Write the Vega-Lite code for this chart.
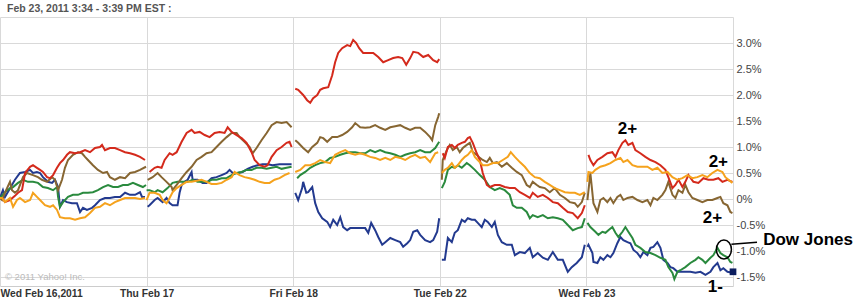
{
"$schema":"https://vega.github.io/schema/vega-lite/v6.json",
"width":733,"height":269,
"autosize":{"type":"none"},
"padding":{"left":0,"top":17,"right":127,"bottom":13},
"background":"white",
"config":{"view":{"stroke":null},"font":"Liberation Sans"},
"title":{"text":"Feb 23, 2011 3:34 - 3:39 PM EST :","anchor":"start","frame":"group","fontSize":10.5,"fontWeight":"bold","color":"#555555","font":"Liberation Sans","offset":3,"dx":7},
"datasets":{
"lines":[
{"s":"B","d":0,"t":0.0,"v":0.02},{"s":"B","d":0,"t":0.02,"v":0.17},{"s":"B","d":0,"t":0.034,"v":0.04},{"s":"B","d":0,"t":0.102,"v":0.37},{"s":"B","d":0,"t":0.136,"v":0.5},{"s":"B","d":0,"t":0.171,"v":0.52},{"s":"B","d":0,"t":0.205,"v":0.56},{"s":"B","d":0,"t":0.225,"v":0.5},{"s":"B","d":0,"t":0.252,"v":0.52},{"s":"B","d":0,"t":0.273,"v":0.5},{"s":"B","d":0,"t":0.293,"v":0.42},{"s":"B","d":0,"t":0.327,"v":0.33},{"s":"B","d":0,"t":0.355,"v":0.31},{"s":"B","d":0,"t":0.375,"v":0.37},{"s":"B","d":0,"t":0.396,"v":0.23},{"s":"B","d":0,"t":0.409,"v":-0.15},{"s":"B","d":0,"t":0.43,"v":-0.02},{"s":"B","d":0,"t":0.457,"v":-0.06},{"s":"B","d":0,"t":0.491,"v":-0.08},{"s":"B","d":0,"t":0.525,"v":-0.08},{"s":"B","d":0,"t":0.546,"v":-0.25},{"s":"B","d":0,"t":0.566,"v":-0.17},{"s":"B","d":0,"t":0.593,"v":-0.21},{"s":"B","d":0,"t":0.628,"v":-0.17},{"s":"B","d":0,"t":0.648,"v":-0.12},{"s":"B","d":0,"t":0.682,"v":-0.02},{"s":"B","d":0,"t":0.716,"v":0.02},{"s":"B","d":0,"t":0.75,"v":0.02},{"s":"B","d":0,"t":0.784,"v":0.04},{"s":"B","d":0,"t":0.819,"v":0.04},{"s":"B","d":0,"t":0.853,"v":0.12},{"s":"B","d":0,"t":0.887,"v":0.08},{"s":"B","d":0,"t":0.921,"v":0.08},{"s":"B","d":0,"t":0.955,"v":0.13},{"s":"B","d":0,"t":0.969,"v":0.04},{"s":"B","d":0,"t":0.989,"v":0.04},
{"s":"B","d":1,"t":1.007,"v":-0.15},{"s":"B","d":1,"t":1.02,"v":-0.12},{"s":"B","d":1,"t":1.055,"v":-0.02},{"s":"B","d":1,"t":1.075,"v":0.02},{"s":"B","d":1,"t":1.109,"v":-0.06},{"s":"B","d":1,"t":1.136,"v":0.02},{"s":"B","d":1,"t":1.157,"v":-0.08},{"s":"B","d":1,"t":1.177,"v":-0.12},{"s":"B","d":1,"t":1.211,"v":-0.12},{"s":"B","d":1,"t":1.225,"v":0.12},{"s":"B","d":1,"t":1.239,"v":0.27},{"s":"B","d":1,"t":1.259,"v":0.33},{"s":"B","d":1,"t":1.28,"v":0.37},{"s":"B","d":1,"t":1.307,"v":0.52},{"s":"B","d":1,"t":1.314,"v":0.37},{"s":"B","d":1,"t":1.348,"v":0.37},{"s":"B","d":1,"t":1.382,"v":0.31},{"s":"B","d":1,"t":1.409,"v":0.31},{"s":"B","d":1,"t":1.443,"v":0.4},{"s":"B","d":1,"t":1.477,"v":0.42},{"s":"B","d":1,"t":1.512,"v":0.46},{"s":"B","d":1,"t":1.546,"v":0.5},{"s":"B","d":1,"t":1.566,"v":0.56},{"s":"B","d":1,"t":1.587,"v":0.5},{"s":"B","d":1,"t":1.621,"v":0.5},{"s":"B","d":1,"t":1.655,"v":0.52},{"s":"B","d":1,"t":1.689,"v":0.58},{"s":"B","d":1,"t":1.723,"v":0.62},{"s":"B","d":1,"t":1.757,"v":0.65},{"s":"B","d":1,"t":1.791,"v":0.67},{"s":"B","d":1,"t":1.825,"v":0.67},{"s":"B","d":1,"t":1.859,"v":0.65},{"s":"B","d":1,"t":1.907,"v":0.67},{"s":"B","d":1,"t":1.955,"v":0.67},{"s":"B","d":1,"t":1.989,"v":0.67},
{"s":"B","d":2,"t":2.014,"v":0.12},{"s":"B","d":2,"t":2.034,"v":-0.02},{"s":"B","d":2,"t":2.061,"v":0.21},{"s":"B","d":2,"t":2.068,"v":0.33},{"s":"B","d":2,"t":2.089,"v":0.12},{"s":"B","d":2,"t":2.102,"v":0.13},{"s":"B","d":2,"t":2.13,"v":0.23},{"s":"B","d":2,"t":2.15,"v":-0.08},{"s":"B","d":2,"t":2.171,"v":-0.25},{"s":"B","d":2,"t":2.198,"v":-0.37},{"s":"B","d":2,"t":2.232,"v":-0.44},{"s":"B","d":2,"t":2.252,"v":-0.54},{"s":"B","d":2,"t":2.273,"v":-0.4},{"s":"B","d":2,"t":2.3,"v":-0.5},{"s":"B","d":2,"t":2.321,"v":-0.35},{"s":"B","d":2,"t":2.341,"v":-0.54},{"s":"B","d":2,"t":2.368,"v":-0.6},{"s":"B","d":2,"t":2.389,"v":-0.56},{"s":"B","d":2,"t":2.423,"v":-0.56},{"s":"B","d":2,"t":2.457,"v":-0.56},{"s":"B","d":2,"t":2.491,"v":-0.56},{"s":"B","d":2,"t":2.512,"v":-0.65},{"s":"B","d":2,"t":2.532,"v":-0.46},{"s":"B","d":2,"t":2.559,"v":-0.6},{"s":"B","d":2,"t":2.58,"v":-0.73},{"s":"B","d":2,"t":2.607,"v":-0.88},{"s":"B","d":2,"t":2.628,"v":-0.83},{"s":"B","d":2,"t":2.662,"v":-0.75},{"s":"B","d":2,"t":2.696,"v":-0.79},{"s":"B","d":2,"t":2.73,"v":-0.83},{"s":"B","d":2,"t":2.75,"v":-0.92},{"s":"B","d":2,"t":2.778,"v":-0.85},{"s":"B","d":2,"t":2.798,"v":-0.79},{"s":"B","d":2,"t":2.819,"v":-0.63},{"s":"B","d":2,"t":2.846,"v":-0.6},{"s":"B","d":2,"t":2.866,"v":-0.69},{"s":"B","d":2,"t":2.9,"v":-0.79},{"s":"B","d":2,"t":2.934,"v":-0.83},{"s":"B","d":2,"t":2.955,"v":-0.79},{"s":"B","d":2,"t":2.982,"v":-0.63},{"s":"B","d":2,"t":2.996,"v":-0.37},
{"s":"B","d":3,"t":3.014,"v":-1.17},{"s":"B","d":3,"t":3.034,"v":-1.17},{"s":"B","d":3,"t":3.055,"v":-0.75},{"s":"B","d":3,"t":3.082,"v":-0.83},{"s":"B","d":3,"t":3.102,"v":-0.65},{"s":"B","d":3,"t":3.123,"v":-0.6},{"s":"B","d":3,"t":3.15,"v":-0.4},{"s":"B","d":3,"t":3.171,"v":-0.44},{"s":"B","d":3,"t":3.191,"v":-0.37},{"s":"B","d":3,"t":3.218,"v":-0.4},{"s":"B","d":3,"t":3.239,"v":-0.4},{"s":"B","d":3,"t":3.259,"v":-0.46},{"s":"B","d":3,"t":3.286,"v":-0.54},{"s":"B","d":3,"t":3.307,"v":-0.4},{"s":"B","d":3,"t":3.327,"v":-0.44},{"s":"B","d":3,"t":3.355,"v":-0.54},{"s":"B","d":3,"t":3.375,"v":-0.44},{"s":"B","d":3,"t":3.396,"v":-0.69},{"s":"B","d":3,"t":3.423,"v":-0.83},{"s":"B","d":3,"t":3.457,"v":-0.88},{"s":"B","d":3,"t":3.491,"v":-0.88},{"s":"B","d":3,"t":3.512,"v":-1.08},{"s":"B","d":3,"t":3.546,"v":-1.02},{"s":"B","d":3,"t":3.58,"v":-1.04},{"s":"B","d":3,"t":3.614,"v":-0.94},{"s":"B","d":3,"t":3.634,"v":-1.12},{"s":"B","d":3,"t":3.668,"v":-1.04},{"s":"B","d":3,"t":3.703,"v":-1.13},{"s":"B","d":3,"t":3.737,"v":-1.17},{"s":"B","d":3,"t":3.771,"v":-1.02},{"s":"B","d":3,"t":3.805,"v":-1.17},{"s":"B","d":3,"t":3.839,"v":-1.17},{"s":"B","d":3,"t":3.873,"v":-1.4},{"s":"B","d":3,"t":3.9,"v":-1.31},{"s":"B","d":3,"t":3.934,"v":-1.23},{"s":"B","d":3,"t":3.969,"v":-1.12},{"s":"B","d":3,"t":3.989,"v":-0.88},
{"s":"B","d":4,"t":4.007,"v":-0.92},{"s":"B","d":4,"t":4.014,"v":-0.88},{"s":"B","d":4,"t":4.041,"v":-1.04},{"s":"B","d":4,"t":4.048,"v":-1.21},{"s":"B","d":4,"t":4.075,"v":-1.23},{"s":"B","d":4,"t":4.095,"v":-1.12},{"s":"B","d":4,"t":4.116,"v":-1.17},{"s":"B","d":4,"t":4.143,"v":-1.08},{"s":"B","d":4,"t":4.164,"v":-1.12},{"s":"B","d":4,"t":4.184,"v":-1.04},{"s":"B","d":4,"t":4.211,"v":-0.85},{"s":"B","d":4,"t":4.232,"v":-0.73},{"s":"B","d":4,"t":4.252,"v":-0.79},{"s":"B","d":4,"t":4.28,"v":-0.83},{"s":"B","d":4,"t":4.3,"v":-0.85},{"s":"B","d":4,"t":4.321,"v":-0.98},{"s":"B","d":4,"t":4.348,"v":-1.04},{"s":"B","d":4,"t":4.368,"v":-1.12},{"s":"B","d":4,"t":4.389,"v":-1.02},{"s":"B","d":4,"t":4.416,"v":-1.08},{"s":"B","d":4,"t":4.437,"v":-0.94},{"s":"B","d":4,"t":4.457,"v":-0.92},{"s":"B","d":4,"t":4.484,"v":-0.83},{"s":"B","d":4,"t":4.505,"v":-0.94},{"s":"B","d":4,"t":4.525,"v":-1.17},{"s":"B","d":4,"t":4.553,"v":-1.23},{"s":"B","d":4,"t":4.573,"v":-1.31},{"s":"B","d":4,"t":4.593,"v":-1.33},{"s":"B","d":4,"t":4.621,"v":-1.4},{"s":"B","d":4,"t":4.641,"v":-1.4},{"s":"B","d":4,"t":4.675,"v":-1.4},{"s":"B","d":4,"t":4.709,"v":-1.4},{"s":"B","d":4,"t":4.744,"v":-1.42},{"s":"B","d":4,"t":4.778,"v":-1.4},{"s":"B","d":4,"t":4.812,"v":-1.46},{"s":"B","d":4,"t":4.846,"v":-1.4},{"s":"B","d":4,"t":4.866,"v":-1.31},{"s":"B","d":4,"t":4.894,"v":-1.23},{"s":"B","d":4,"t":4.914,"v":-1.37},{"s":"B","d":4,"t":4.934,"v":-1.33},{"s":"B","d":4,"t":4.962,"v":-1.4},{"s":"B","d":4,"t":4.996,"v":-1.42},
{"s":"G","d":0,"t":0.0,"v":0.02},{"s":"G","d":0,"t":0.048,"v":0.17},{"s":"G","d":0,"t":0.089,"v":0.23},{"s":"G","d":0,"t":0.123,"v":0.31},{"s":"G","d":0,"t":0.157,"v":0.37},{"s":"G","d":0,"t":0.191,"v":0.33},{"s":"G","d":0,"t":0.225,"v":0.33},{"s":"G","d":0,"t":0.259,"v":0.31},{"s":"G","d":0,"t":0.293,"v":0.23},{"s":"G","d":0,"t":0.327,"v":0.21},{"s":"G","d":0,"t":0.362,"v":0.17},{"s":"G","d":0,"t":0.389,"v":0.23},{"s":"G","d":0,"t":0.396,"v":0.04},{"s":"G","d":0,"t":0.409,"v":-0.15},{"s":"G","d":0,"t":0.43,"v":-0.06},{"s":"G","d":0,"t":0.464,"v":0.04},{"s":"G","d":0,"t":0.498,"v":0.08},{"s":"G","d":0,"t":0.532,"v":0.08},{"s":"G","d":0,"t":0.566,"v":0.12},{"s":"G","d":0,"t":0.6,"v":0.12},{"s":"G","d":0,"t":0.634,"v":0.13},{"s":"G","d":0,"t":0.668,"v":0.17},{"s":"G","d":0,"t":0.703,"v":0.23},{"s":"G","d":0,"t":0.737,"v":0.27},{"s":"G","d":0,"t":0.771,"v":0.23},{"s":"G","d":0,"t":0.805,"v":0.23},{"s":"G","d":0,"t":0.839,"v":0.27},{"s":"G","d":0,"t":0.873,"v":0.27},{"s":"G","d":0,"t":0.907,"v":0.31},{"s":"G","d":0,"t":0.941,"v":0.27},{"s":"G","d":0,"t":0.975,"v":0.23},{"s":"G","d":0,"t":0.996,"v":0.27},
{"s":"G","d":1,"t":1.0,"v":0.17},{"s":"G","d":1,"t":1.02,"v":0.17},{"s":"G","d":1,"t":1.055,"v":0.13},{"s":"G","d":1,"t":1.075,"v":0.17},{"s":"G","d":1,"t":1.109,"v":0.13},{"s":"G","d":1,"t":1.143,"v":0.21},{"s":"G","d":1,"t":1.177,"v":0.31},{"s":"G","d":1,"t":1.211,"v":0.33},{"s":"G","d":1,"t":1.246,"v":0.33},{"s":"G","d":1,"t":1.28,"v":0.33},{"s":"G","d":1,"t":1.314,"v":0.37},{"s":"G","d":1,"t":1.348,"v":0.33},{"s":"G","d":1,"t":1.382,"v":0.33},{"s":"G","d":1,"t":1.416,"v":0.33},{"s":"G","d":1,"t":1.443,"v":0.37},{"s":"G","d":1,"t":1.477,"v":0.37},{"s":"G","d":1,"t":1.512,"v":0.4},{"s":"G","d":1,"t":1.546,"v":0.4},{"s":"G","d":1,"t":1.58,"v":0.46},{"s":"G","d":1,"t":1.614,"v":0.5},{"s":"G","d":1,"t":1.648,"v":0.52},{"s":"G","d":1,"t":1.682,"v":0.56},{"s":"G","d":1,"t":1.716,"v":0.56},{"s":"G","d":1,"t":1.75,"v":0.6},{"s":"G","d":1,"t":1.784,"v":0.6},{"s":"G","d":1,"t":1.819,"v":0.58},{"s":"G","d":1,"t":1.853,"v":0.6},{"s":"G","d":1,"t":1.887,"v":0.62},{"s":"G","d":1,"t":1.921,"v":0.58},{"s":"G","d":1,"t":1.955,"v":0.6},{"s":"G","d":1,"t":1.989,"v":0.62},
{"s":"G","d":2,"t":2.027,"v":0.4},{"s":"G","d":2,"t":2.048,"v":0.46},{"s":"G","d":2,"t":2.082,"v":0.52},{"s":"G","d":2,"t":2.116,"v":0.6},{"s":"G","d":2,"t":2.15,"v":0.65},{"s":"G","d":2,"t":2.184,"v":0.69},{"s":"G","d":2,"t":2.218,"v":0.71},{"s":"G","d":2,"t":2.252,"v":0.79},{"s":"G","d":2,"t":2.286,"v":0.81},{"s":"G","d":2,"t":2.321,"v":0.85},{"s":"G","d":2,"t":2.355,"v":0.88},{"s":"G","d":2,"t":2.389,"v":0.9},{"s":"G","d":2,"t":2.423,"v":0.9},{"s":"G","d":2,"t":2.457,"v":0.88},{"s":"G","d":2,"t":2.491,"v":0.88},{"s":"G","d":2,"t":2.525,"v":0.94},{"s":"G","d":2,"t":2.559,"v":0.9},{"s":"G","d":2,"t":2.593,"v":0.94},{"s":"G","d":2,"t":2.628,"v":0.9},{"s":"G","d":2,"t":2.662,"v":0.88},{"s":"G","d":2,"t":2.696,"v":0.85},{"s":"G","d":2,"t":2.73,"v":0.81},{"s":"G","d":2,"t":2.764,"v":0.85},{"s":"G","d":2,"t":2.798,"v":0.88},{"s":"G","d":2,"t":2.832,"v":0.9},{"s":"G","d":2,"t":2.866,"v":0.94},{"s":"G","d":2,"t":2.9,"v":0.9},{"s":"G","d":2,"t":2.934,"v":0.9},{"s":"G","d":2,"t":2.969,"v":0.98},{"s":"G","d":2,"t":2.996,"v":1.1},
{"s":"G","d":3,"t":3.014,"v":0.21},{"s":"G","d":3,"t":3.034,"v":0.33},{"s":"G","d":3,"t":3.055,"v":0.56},{"s":"G","d":3,"t":3.082,"v":0.62},{"s":"G","d":3,"t":3.102,"v":0.6},{"s":"G","d":3,"t":3.123,"v":0.65},{"s":"G","d":3,"t":3.15,"v":0.6},{"s":"G","d":3,"t":3.184,"v":0.69},{"s":"G","d":3,"t":3.205,"v":0.65},{"s":"G","d":3,"t":3.239,"v":0.56},{"s":"G","d":3,"t":3.273,"v":0.46},{"s":"G","d":3,"t":3.307,"v":0.37},{"s":"G","d":3,"t":3.341,"v":0.23},{"s":"G","d":3,"t":3.375,"v":0.17},{"s":"G","d":3,"t":3.409,"v":0.21},{"s":"G","d":3,"t":3.443,"v":0.17},{"s":"G","d":3,"t":3.477,"v":0.08},{"s":"G","d":3,"t":3.498,"v":-0.12},{"s":"G","d":3,"t":3.525,"v":-0.17},{"s":"G","d":3,"t":3.559,"v":-0.17},{"s":"G","d":3,"t":3.593,"v":-0.25},{"s":"G","d":3,"t":3.614,"v":-0.37},{"s":"G","d":3,"t":3.634,"v":-0.31},{"s":"G","d":3,"t":3.668,"v":-0.35},{"s":"G","d":3,"t":3.703,"v":-0.31},{"s":"G","d":3,"t":3.737,"v":-0.37},{"s":"G","d":3,"t":3.771,"v":-0.35},{"s":"G","d":3,"t":3.805,"v":-0.37},{"s":"G","d":3,"t":3.839,"v":-0.4},{"s":"G","d":3,"t":3.873,"v":-0.5},{"s":"G","d":3,"t":3.907,"v":-0.6},{"s":"G","d":3,"t":3.941,"v":-0.56},{"s":"G","d":3,"t":3.969,"v":-0.54},{"s":"G","d":3,"t":3.989,"v":-0.37},
{"s":"G","d":4,"t":4.007,"v":-0.46},{"s":"G","d":4,"t":4.027,"v":-0.54},{"s":"G","d":4,"t":4.061,"v":-0.63},{"s":"G","d":4,"t":4.082,"v":-0.69},{"s":"G","d":4,"t":4.109,"v":-0.63},{"s":"G","d":4,"t":4.13,"v":-0.65},{"s":"G","d":4,"t":4.15,"v":-0.6},{"s":"G","d":4,"t":4.177,"v":-0.54},{"s":"G","d":4,"t":4.198,"v":-0.65},{"s":"G","d":4,"t":4.218,"v":-0.73},{"s":"G","d":4,"t":4.246,"v":-0.63},{"s":"G","d":4,"t":4.266,"v":-0.54},{"s":"G","d":4,"t":4.286,"v":-0.63},{"s":"G","d":4,"t":4.314,"v":-0.75},{"s":"G","d":4,"t":4.334,"v":-0.88},{"s":"G","d":4,"t":4.368,"v":-0.94},{"s":"G","d":4,"t":4.402,"v":-1.02},{"s":"G","d":4,"t":4.437,"v":-1.04},{"s":"G","d":4,"t":4.471,"v":-1.08},{"s":"G","d":4,"t":4.505,"v":-1.13},{"s":"G","d":4,"t":4.539,"v":-1.17},{"s":"G","d":4,"t":4.559,"v":-1.31},{"s":"G","d":4,"t":4.587,"v":-1.42},{"s":"G","d":4,"t":4.6,"v":-1.54},{"s":"G","d":4,"t":4.621,"v":-1.4},{"s":"G","d":4,"t":4.641,"v":-1.37},{"s":"G","d":4,"t":4.675,"v":-1.31},{"s":"G","d":4,"t":4.709,"v":-1.23},{"s":"G","d":4,"t":4.744,"v":-1.17},{"s":"G","d":4,"t":4.764,"v":-1.12},{"s":"G","d":4,"t":4.791,"v":-1.17},{"s":"G","d":4,"t":4.812,"v":-1.23},{"s":"G","d":4,"t":4.846,"v":-1.13},{"s":"G","d":4,"t":4.866,"v":-1.08},{"s":"G","d":4,"t":4.894,"v":-0.94},{"s":"G","d":4,"t":4.914,"v":-1.04},{"s":"G","d":4,"t":4.934,"v":-1.08},{"s":"G","d":4,"t":4.962,"v":-1.12},{"s":"G","d":4,"t":4.982,"v":-1.21},{"s":"G","d":4,"t":4.996,"v":-1.23},
{"s":"K","d":0,"t":0.0,"v":0.02},{"s":"K","d":0,"t":0.014,"v":-0.02},{"s":"K","d":0,"t":0.034,"v":0.12},{"s":"K","d":0,"t":0.068,"v":0.33},{"s":"K","d":0,"t":0.082,"v":0.17},{"s":"K","d":0,"t":0.102,"v":0.12},{"s":"K","d":0,"t":0.123,"v":0.17},{"s":"K","d":0,"t":0.157,"v":0.42},{"s":"K","d":0,"t":0.184,"v":0.5},{"s":"K","d":0,"t":0.225,"v":0.46},{"s":"K","d":0,"t":0.259,"v":0.42},{"s":"K","d":0,"t":0.286,"v":0.37},{"s":"K","d":0,"t":0.321,"v":0.33},{"s":"K","d":0,"t":0.355,"v":0.42},{"s":"K","d":0,"t":0.375,"v":0.37},{"s":"K","d":0,"t":0.396,"v":0.17},{"s":"K","d":0,"t":0.423,"v":0.37},{"s":"K","d":0,"t":0.443,"v":0.6},{"s":"K","d":0,"t":0.464,"v":0.75},{"s":"K","d":0,"t":0.498,"v":0.85},{"s":"K","d":0,"t":0.532,"v":0.9},{"s":"K","d":0,"t":0.559,"v":0.88},{"s":"K","d":0,"t":0.58,"v":0.81},{"s":"K","d":0,"t":0.6,"v":0.75},{"s":"K","d":0,"t":0.634,"v":0.65},{"s":"K","d":0,"t":0.668,"v":0.56},{"s":"K","d":0,"t":0.703,"v":0.5},{"s":"K","d":0,"t":0.73,"v":0.52},{"s":"K","d":0,"t":0.75,"v":0.42},{"s":"K","d":0,"t":0.784,"v":0.37},{"s":"K","d":0,"t":0.819,"v":0.42},{"s":"K","d":0,"t":0.853,"v":0.4},{"s":"K","d":0,"t":0.887,"v":0.5},{"s":"K","d":0,"t":0.921,"v":0.52},{"s":"K","d":0,"t":0.955,"v":0.56},{"s":"K","d":0,"t":0.996,"v":0.62},
{"s":"K","d":1,"t":1.007,"v":0.37},{"s":"K","d":1,"t":1.041,"v":0.42},{"s":"K","d":1,"t":1.075,"v":0.5},{"s":"K","d":1,"t":1.102,"v":0.42},{"s":"K","d":1,"t":1.136,"v":0.33},{"s":"K","d":1,"t":1.171,"v":0.23},{"s":"K","d":1,"t":1.177,"v":0.17},{"s":"K","d":1,"t":1.205,"v":0.27},{"s":"K","d":1,"t":1.239,"v":0.4},{"s":"K","d":1,"t":1.273,"v":0.52},{"s":"K","d":1,"t":1.307,"v":0.62},{"s":"K","d":1,"t":1.341,"v":0.75},{"s":"K","d":1,"t":1.375,"v":0.81},{"s":"K","d":1,"t":1.409,"v":0.88},{"s":"K","d":1,"t":1.443,"v":0.9},{"s":"K","d":1,"t":1.477,"v":1.0},{"s":"K","d":1,"t":1.512,"v":1.1},{"s":"K","d":1,"t":1.546,"v":1.19},{"s":"K","d":1,"t":1.58,"v":1.27},{"s":"K","d":1,"t":1.614,"v":1.27},{"s":"K","d":1,"t":1.634,"v":1.19},{"s":"K","d":1,"t":1.668,"v":1.1},{"s":"K","d":1,"t":1.703,"v":1.0},{"s":"K","d":1,"t":1.723,"v":0.88},{"s":"K","d":1,"t":1.75,"v":0.98},{"s":"K","d":1,"t":1.784,"v":1.13},{"s":"K","d":1,"t":1.819,"v":1.27},{"s":"K","d":1,"t":1.853,"v":1.42},{"s":"K","d":1,"t":1.887,"v":1.48},{"s":"K","d":1,"t":1.921,"v":1.46},{"s":"K","d":1,"t":1.955,"v":1.48},{"s":"K","d":1,"t":1.989,"v":1.38},
{"s":"K","d":2,"t":2.014,"v":1.13},{"s":"K","d":2,"t":2.034,"v":1.08},{"s":"K","d":2,"t":2.068,"v":0.98},{"s":"K","d":2,"t":2.102,"v":0.9},{"s":"K","d":2,"t":2.13,"v":1.0},{"s":"K","d":2,"t":2.164,"v":1.08},{"s":"K","d":2,"t":2.184,"v":1.19},{"s":"K","d":2,"t":2.205,"v":1.17},{"s":"K","d":2,"t":2.232,"v":1.1},{"s":"K","d":2,"t":2.266,"v":1.19},{"s":"K","d":2,"t":2.3,"v":1.19},{"s":"K","d":2,"t":2.334,"v":1.23},{"s":"K","d":2,"t":2.368,"v":1.29},{"s":"K","d":2,"t":2.402,"v":1.38},{"s":"K","d":2,"t":2.423,"v":1.46},{"s":"K","d":2,"t":2.457,"v":1.38},{"s":"K","d":2,"t":2.491,"v":1.37},{"s":"K","d":2,"t":2.525,"v":1.38},{"s":"K","d":2,"t":2.559,"v":1.42},{"s":"K","d":2,"t":2.593,"v":1.37},{"s":"K","d":2,"t":2.628,"v":1.33},{"s":"K","d":2,"t":2.662,"v":1.38},{"s":"K","d":2,"t":2.696,"v":1.4},{"s":"K","d":2,"t":2.73,"v":1.42},{"s":"K","d":2,"t":2.764,"v":1.37},{"s":"K","d":2,"t":2.798,"v":1.33},{"s":"K","d":2,"t":2.832,"v":1.37},{"s":"K","d":2,"t":2.866,"v":1.37},{"s":"K","d":2,"t":2.9,"v":1.29},{"s":"K","d":2,"t":2.934,"v":1.19},{"s":"K","d":2,"t":2.948,"v":1.13},{"s":"K","d":2,"t":2.969,"v":1.42},{"s":"K","d":2,"t":2.989,"v":1.58},{"s":"K","d":2,"t":2.996,"v":1.65},
{"s":"K","d":3,"t":3.014,"v":0.37},{"s":"K","d":3,"t":3.02,"v":0.75},{"s":"K","d":3,"t":3.048,"v":0.94},{"s":"K","d":3,"t":3.068,"v":1.04},{"s":"K","d":3,"t":3.089,"v":0.94},{"s":"K","d":3,"t":3.116,"v":1.0},{"s":"K","d":3,"t":3.136,"v":0.9},{"s":"K","d":3,"t":3.157,"v":0.98},{"s":"K","d":3,"t":3.184,"v":1.04},{"s":"K","d":3,"t":3.205,"v":1.08},{"s":"K","d":3,"t":3.225,"v":0.9},{"s":"K","d":3,"t":3.252,"v":0.85},{"s":"K","d":3,"t":3.273,"v":0.79},{"s":"K","d":3,"t":3.293,"v":0.75},{"s":"K","d":3,"t":3.321,"v":0.71},{"s":"K","d":3,"t":3.341,"v":0.79},{"s":"K","d":3,"t":3.362,"v":0.69},{"s":"K","d":3,"t":3.389,"v":0.71},{"s":"K","d":3,"t":3.423,"v":0.62},{"s":"K","d":3,"t":3.457,"v":0.69},{"s":"K","d":3,"t":3.491,"v":0.6},{"s":"K","d":3,"t":3.525,"v":0.52},{"s":"K","d":3,"t":3.559,"v":0.46},{"s":"K","d":3,"t":3.593,"v":0.27},{"s":"K","d":3,"t":3.614,"v":0.23},{"s":"K","d":3,"t":3.634,"v":0.33},{"s":"K","d":3,"t":3.662,"v":0.27},{"s":"K","d":3,"t":3.682,"v":0.23},{"s":"K","d":3,"t":3.716,"v":0.21},{"s":"K","d":3,"t":3.75,"v":0.13},{"s":"K","d":3,"t":3.784,"v":0.21},{"s":"K","d":3,"t":3.819,"v":0.08},{"s":"K","d":3,"t":3.853,"v":0.02},{"s":"K","d":3,"t":3.887,"v":-0.06},{"s":"K","d":3,"t":3.921,"v":-0.08},{"s":"K","d":3,"t":3.941,"v":-0.15},{"s":"K","d":3,"t":3.969,"v":-0.06},{"s":"K","d":3,"t":3.989,"v":0.12},
{"s":"K","d":4,"t":4.007,"v":-0.02},{"s":"K","d":4,"t":4.027,"v":0.5},{"s":"K","d":4,"t":4.048,"v":-0.08},{"s":"K","d":4,"t":4.075,"v":-0.25},{"s":"K","d":4,"t":4.095,"v":-0.02},{"s":"K","d":4,"t":4.116,"v":0.02},{"s":"K","d":4,"t":4.143,"v":-0.06},{"s":"K","d":4,"t":4.164,"v":0.02},{"s":"K","d":4,"t":4.184,"v":-0.08},{"s":"K","d":4,"t":4.211,"v":0.04},{"s":"K","d":4,"t":4.232,"v":0.08},{"s":"K","d":4,"t":4.252,"v":-0.02},{"s":"K","d":4,"t":4.28,"v":0.02},{"s":"K","d":4,"t":4.314,"v":0.04},{"s":"K","d":4,"t":4.348,"v":-0.02},{"s":"K","d":4,"t":4.382,"v":-0.06},{"s":"K","d":4,"t":4.416,"v":-0.02},{"s":"K","d":4,"t":4.437,"v":-0.12},{"s":"K","d":4,"t":4.457,"v":0.02},{"s":"K","d":4,"t":4.484,"v":-0.02},{"s":"K","d":4,"t":4.518,"v":0.08},{"s":"K","d":4,"t":4.539,"v":0.17},{"s":"K","d":4,"t":4.559,"v":0.33},{"s":"K","d":4,"t":4.587,"v":0.08},{"s":"K","d":4,"t":4.607,"v":0.02},{"s":"K","d":4,"t":4.628,"v":0.17},{"s":"K","d":4,"t":4.655,"v":0.12},{"s":"K","d":4,"t":4.675,"v":0.27},{"s":"K","d":4,"t":4.696,"v":0.13},{"s":"K","d":4,"t":4.723,"v":0.02},{"s":"K","d":4,"t":4.757,"v":-0.02},{"s":"K","d":4,"t":4.791,"v":-0.06},{"s":"K","d":4,"t":4.825,"v":-0.02},{"s":"K","d":4,"t":4.859,"v":-0.02},{"s":"K","d":4,"t":4.894,"v":0.02},{"s":"K","d":4,"t":4.914,"v":0.04},{"s":"K","d":4,"t":4.934,"v":-0.08},{"s":"K","d":4,"t":4.962,"v":-0.12},{"s":"K","d":4,"t":4.982,"v":-0.25},{"s":"K","d":4,"t":4.996,"v":-0.27},
{"s":"R","d":0,"t":0.0,"v":0.02},{"s":"R","d":0,"t":0.014,"v":0.02},{"s":"R","d":0,"t":0.034,"v":-0.06},{"s":"R","d":0,"t":0.068,"v":-0.02},{"s":"R","d":0,"t":0.102,"v":0.06},{"s":"R","d":0,"t":0.123,"v":0.12},{"s":"R","d":0,"t":0.15,"v":0.17},{"s":"R","d":0,"t":0.171,"v":0.5},{"s":"R","d":0,"t":0.205,"v":0.62},{"s":"R","d":0,"t":0.225,"v":0.65},{"s":"R","d":0,"t":0.252,"v":0.6},{"s":"R","d":0,"t":0.273,"v":0.56},{"s":"R","d":0,"t":0.293,"v":0.52},{"s":"R","d":0,"t":0.321,"v":0.42},{"s":"R","d":0,"t":0.341,"v":0.4},{"s":"R","d":0,"t":0.362,"v":0.46},{"s":"R","d":0,"t":0.389,"v":0.6},{"s":"R","d":0,"t":0.409,"v":0.69},{"s":"R","d":0,"t":0.43,"v":0.75},{"s":"R","d":0,"t":0.457,"v":0.85},{"s":"R","d":0,"t":0.477,"v":0.9},{"s":"R","d":0,"t":0.512,"v":0.88},{"s":"R","d":0,"t":0.546,"v":0.9},{"s":"R","d":0,"t":0.58,"v":0.94},{"s":"R","d":0,"t":0.614,"v":0.9},{"s":"R","d":0,"t":0.648,"v":0.98},{"s":"R","d":0,"t":0.682,"v":1.0},{"s":"R","d":0,"t":0.696,"v":1.04},{"s":"R","d":0,"t":0.716,"v":0.94},{"s":"R","d":0,"t":0.75,"v":0.98},{"s":"R","d":0,"t":0.784,"v":0.98},{"s":"R","d":0,"t":0.819,"v":0.94},{"s":"R","d":0,"t":0.853,"v":0.9},{"s":"R","d":0,"t":0.887,"v":0.88},{"s":"R","d":0,"t":0.921,"v":0.85},{"s":"R","d":0,"t":0.955,"v":0.81},{"s":"R","d":0,"t":0.989,"v":0.75},
{"s":"R","d":1,"t":1.02,"v":0.52},{"s":"R","d":1,"t":1.055,"v":0.6},{"s":"R","d":1,"t":1.075,"v":0.62},{"s":"R","d":1,"t":1.102,"v":0.6},{"s":"R","d":1,"t":1.123,"v":0.75},{"s":"R","d":1,"t":1.157,"v":0.88},{"s":"R","d":1,"t":1.177,"v":0.85},{"s":"R","d":1,"t":1.205,"v":0.9},{"s":"R","d":1,"t":1.239,"v":1.1},{"s":"R","d":1,"t":1.273,"v":1.27},{"s":"R","d":1,"t":1.307,"v":1.33},{"s":"R","d":1,"t":1.327,"v":1.27},{"s":"R","d":1,"t":1.362,"v":1.29},{"s":"R","d":1,"t":1.396,"v":1.23},{"s":"R","d":1,"t":1.43,"v":1.19},{"s":"R","d":1,"t":1.464,"v":1.27},{"s":"R","d":1,"t":1.498,"v":1.29},{"s":"R","d":1,"t":1.532,"v":1.27},{"s":"R","d":1,"t":1.553,"v":1.38},{"s":"R","d":1,"t":1.58,"v":1.29},{"s":"R","d":1,"t":1.614,"v":1.23},{"s":"R","d":1,"t":1.648,"v":1.17},{"s":"R","d":1,"t":1.682,"v":1.08},{"s":"R","d":1,"t":1.716,"v":0.9},{"s":"R","d":1,"t":1.737,"v":0.75},{"s":"R","d":1,"t":1.771,"v":0.65},{"s":"R","d":1,"t":1.805,"v":0.62},{"s":"R","d":1,"t":1.825,"v":0.65},{"s":"R","d":1,"t":1.853,"v":0.81},{"s":"R","d":1,"t":1.887,"v":0.94},{"s":"R","d":1,"t":1.921,"v":1.0},{"s":"R","d":1,"t":1.955,"v":1.08},{"s":"R","d":1,"t":1.975,"v":1.1},{"s":"R","d":1,"t":1.989,"v":1.0},
{"s":"R","d":2,"t":2.014,"v":2.12},{"s":"R","d":2,"t":2.034,"v":2.1},{"s":"R","d":2,"t":2.068,"v":2.0},{"s":"R","d":2,"t":2.095,"v":1.9},{"s":"R","d":2,"t":2.116,"v":1.85},{"s":"R","d":2,"t":2.136,"v":1.94},{"s":"R","d":2,"t":2.164,"v":2.0},{"s":"R","d":2,"t":2.184,"v":2.1},{"s":"R","d":2,"t":2.205,"v":2.13},{"s":"R","d":2,"t":2.239,"v":2.15},{"s":"R","d":2,"t":2.266,"v":2.38},{"s":"R","d":2,"t":2.286,"v":2.63},{"s":"R","d":2,"t":2.307,"v":2.81},{"s":"R","d":2,"t":2.334,"v":2.9},{"s":"R","d":2,"t":2.368,"v":2.96},{"s":"R","d":2,"t":2.389,"v":2.94},{"s":"R","d":2,"t":2.409,"v":3.06},{"s":"R","d":2,"t":2.43,"v":3.0},{"s":"R","d":2,"t":2.45,"v":2.9},{"s":"R","d":2,"t":2.477,"v":2.81},{"s":"R","d":2,"t":2.512,"v":2.81},{"s":"R","d":2,"t":2.546,"v":2.81},{"s":"R","d":2,"t":2.58,"v":2.73},{"s":"R","d":2,"t":2.614,"v":2.63},{"s":"R","d":2,"t":2.648,"v":2.67},{"s":"R","d":2,"t":2.682,"v":2.71},{"s":"R","d":2,"t":2.716,"v":2.73},{"s":"R","d":2,"t":2.744,"v":2.71},{"s":"R","d":2,"t":2.771,"v":2.58},{"s":"R","d":2,"t":2.798,"v":2.71},{"s":"R","d":2,"t":2.819,"v":2.83},{"s":"R","d":2,"t":2.853,"v":2.81},{"s":"R","d":2,"t":2.887,"v":2.73},{"s":"R","d":2,"t":2.921,"v":2.77},{"s":"R","d":2,"t":2.955,"v":2.67},{"s":"R","d":2,"t":2.982,"v":2.63},{"s":"R","d":2,"t":2.996,"v":2.69},
{"s":"R","d":3,"t":3.02,"v":0.88},{"s":"R","d":3,"t":3.034,"v":0.79},{"s":"R","d":3,"t":3.055,"v":1.0},{"s":"R","d":3,"t":3.082,"v":1.04},{"s":"R","d":3,"t":3.102,"v":0.98},{"s":"R","d":3,"t":3.123,"v":1.04},{"s":"R","d":3,"t":3.15,"v":1.08},{"s":"R","d":3,"t":3.171,"v":1.1},{"s":"R","d":3,"t":3.191,"v":1.17},{"s":"R","d":3,"t":3.205,"v":1.19},{"s":"R","d":3,"t":3.225,"v":1.08},{"s":"R","d":3,"t":3.252,"v":0.88},{"s":"R","d":3,"t":3.273,"v":0.75},{"s":"R","d":3,"t":3.293,"v":0.5},{"s":"R","d":3,"t":3.321,"v":0.27},{"s":"R","d":3,"t":3.341,"v":0.23},{"s":"R","d":3,"t":3.375,"v":0.27},{"s":"R","d":3,"t":3.409,"v":0.27},{"s":"R","d":3,"t":3.443,"v":0.23},{"s":"R","d":3,"t":3.477,"v":0.21},{"s":"R","d":3,"t":3.512,"v":0.21},{"s":"R","d":3,"t":3.546,"v":0.13},{"s":"R","d":3,"t":3.58,"v":0.08},{"s":"R","d":3,"t":3.614,"v":0.02},{"s":"R","d":3,"t":3.634,"v":0.12},{"s":"R","d":3,"t":3.668,"v":0.04},{"s":"R","d":3,"t":3.703,"v":0.08},{"s":"R","d":3,"t":3.737,"v":0.02},{"s":"R","d":3,"t":3.771,"v":-0.06},{"s":"R","d":3,"t":3.805,"v":-0.08},{"s":"R","d":3,"t":3.839,"v":-0.17},{"s":"R","d":3,"t":3.873,"v":-0.25},{"s":"R","d":3,"t":3.907,"v":-0.27},{"s":"R","d":3,"t":3.941,"v":-0.37},{"s":"R","d":3,"t":3.969,"v":-0.27},{"s":"R","d":3,"t":3.989,"v":-0.12},
{"s":"R","d":4,"t":4.014,"v":0.85},{"s":"R","d":4,"t":4.027,"v":0.75},{"s":"R","d":4,"t":4.048,"v":0.65},{"s":"R","d":4,"t":4.075,"v":0.75},{"s":"R","d":4,"t":4.109,"v":0.81},{"s":"R","d":4,"t":4.143,"v":0.88},{"s":"R","d":4,"t":4.177,"v":0.9},{"s":"R","d":4,"t":4.198,"v":0.81},{"s":"R","d":4,"t":4.218,"v":0.94},{"s":"R","d":4,"t":4.246,"v":1.08},{"s":"R","d":4,"t":4.266,"v":1.13},{"s":"R","d":4,"t":4.286,"v":1.04},{"s":"R","d":4,"t":4.314,"v":1.08},{"s":"R","d":4,"t":4.334,"v":0.94},{"s":"R","d":4,"t":4.368,"v":0.88},{"s":"R","d":4,"t":4.402,"v":0.81},{"s":"R","d":4,"t":4.437,"v":0.75},{"s":"R","d":4,"t":4.471,"v":0.71},{"s":"R","d":4,"t":4.505,"v":0.65},{"s":"R","d":4,"t":4.539,"v":0.56},{"s":"R","d":4,"t":4.559,"v":0.42},{"s":"R","d":4,"t":4.587,"v":0.21},{"s":"R","d":4,"t":4.607,"v":0.27},{"s":"R","d":4,"t":4.628,"v":0.37},{"s":"R","d":4,"t":4.655,"v":0.23},{"s":"R","d":4,"t":4.675,"v":0.33},{"s":"R","d":4,"t":4.696,"v":0.46},{"s":"R","d":4,"t":4.73,"v":0.33},{"s":"R","d":4,"t":4.764,"v":0.31},{"s":"R","d":4,"t":4.798,"v":0.4},{"s":"R","d":4,"t":4.832,"v":0.37},{"s":"R","d":4,"t":4.866,"v":0.37},{"s":"R","d":4,"t":4.9,"v":0.4},{"s":"R","d":4,"t":4.928,"v":0.33},{"s":"R","d":4,"t":4.962,"v":0.37},{"s":"R","d":4,"t":4.996,"v":0.33},
{"s":"O","d":0,"t":0.0,"v":0.02},{"s":"O","d":0,"t":0.014,"v":0.02},{"s":"O","d":0,"t":0.034,"v":-0.06},{"s":"O","d":0,"t":0.068,"v":0.02},{"s":"O","d":0,"t":0.089,"v":-0.15},{"s":"O","d":0,"t":0.116,"v":-0.02},{"s":"O","d":0,"t":0.136,"v":0.02},{"s":"O","d":0,"t":0.171,"v":-0.06},{"s":"O","d":0,"t":0.205,"v":-0.02},{"s":"O","d":0,"t":0.225,"v":0.12},{"s":"O","d":0,"t":0.252,"v":0.04},{"s":"O","d":0,"t":0.273,"v":-0.02},{"s":"O","d":0,"t":0.307,"v":-0.12},{"s":"O","d":0,"t":0.341,"v":-0.15},{"s":"O","d":0,"t":0.362,"v":-0.12},{"s":"O","d":0,"t":0.389,"v":-0.21},{"s":"O","d":0,"t":0.409,"v":-0.35},{"s":"O","d":0,"t":0.443,"v":-0.37},{"s":"O","d":0,"t":0.477,"v":-0.37},{"s":"O","d":0,"t":0.512,"v":-0.4},{"s":"O","d":0,"t":0.546,"v":-0.37},{"s":"O","d":0,"t":0.58,"v":-0.35},{"s":"O","d":0,"t":0.614,"v":-0.27},{"s":"O","d":0,"t":0.648,"v":-0.17},{"s":"O","d":0,"t":0.682,"v":-0.15},{"s":"O","d":0,"t":0.716,"v":-0.08},{"s":"O","d":0,"t":0.75,"v":-0.12},{"s":"O","d":0,"t":0.784,"v":-0.06},{"s":"O","d":0,"t":0.819,"v":-0.02},{"s":"O","d":0,"t":0.853,"v":0.02},{"s":"O","d":0,"t":0.887,"v":0.02},{"s":"O","d":0,"t":0.921,"v":0.02},{"s":"O","d":0,"t":0.955,"v":0.0},{"s":"O","d":0,"t":0.989,"v":0.02},
{"s":"O","d":1,"t":1.0,"v":-0.02},{"s":"O","d":1,"t":1.02,"v":0.12},{"s":"O","d":1,"t":1.055,"v":0.12},{"s":"O","d":1,"t":1.089,"v":0.08},{"s":"O","d":1,"t":1.109,"v":-0.02},{"s":"O","d":1,"t":1.136,"v":-0.08},{"s":"O","d":1,"t":1.157,"v":0.02},{"s":"O","d":1,"t":1.177,"v":0.13},{"s":"O","d":1,"t":1.205,"v":0.21},{"s":"O","d":1,"t":1.239,"v":0.27},{"s":"O","d":1,"t":1.273,"v":0.33},{"s":"O","d":1,"t":1.307,"v":0.33},{"s":"O","d":1,"t":1.341,"v":0.35},{"s":"O","d":1,"t":1.375,"v":0.37},{"s":"O","d":1,"t":1.409,"v":0.33},{"s":"O","d":1,"t":1.443,"v":0.29},{"s":"O","d":1,"t":1.477,"v":0.29},{"s":"O","d":1,"t":1.512,"v":0.31},{"s":"O","d":1,"t":1.546,"v":0.37},{"s":"O","d":1,"t":1.58,"v":0.42},{"s":"O","d":1,"t":1.6,"v":0.52},{"s":"O","d":1,"t":1.634,"v":0.46},{"s":"O","d":1,"t":1.668,"v":0.42},{"s":"O","d":1,"t":1.703,"v":0.4},{"s":"O","d":1,"t":1.737,"v":0.37},{"s":"O","d":1,"t":1.771,"v":0.33},{"s":"O","d":1,"t":1.805,"v":0.31},{"s":"O","d":1,"t":1.839,"v":0.31},{"s":"O","d":1,"t":1.873,"v":0.37},{"s":"O","d":1,"t":1.907,"v":0.4},{"s":"O","d":1,"t":1.941,"v":0.46},{"s":"O","d":1,"t":1.975,"v":0.5},
{"s":"O","d":2,"t":2.014,"v":0.52},{"s":"O","d":2,"t":2.048,"v":0.56},{"s":"O","d":2,"t":2.082,"v":0.65},{"s":"O","d":2,"t":2.116,"v":0.65},{"s":"O","d":2,"t":2.15,"v":0.69},{"s":"O","d":2,"t":2.184,"v":0.75},{"s":"O","d":2,"t":2.218,"v":0.71},{"s":"O","d":2,"t":2.252,"v":0.69},{"s":"O","d":2,"t":2.286,"v":0.85},{"s":"O","d":2,"t":2.321,"v":0.9},{"s":"O","d":2,"t":2.355,"v":0.94},{"s":"O","d":2,"t":2.389,"v":0.88},{"s":"O","d":2,"t":2.423,"v":0.85},{"s":"O","d":2,"t":2.457,"v":0.88},{"s":"O","d":2,"t":2.491,"v":0.85},{"s":"O","d":2,"t":2.525,"v":0.81},{"s":"O","d":2,"t":2.559,"v":0.79},{"s":"O","d":2,"t":2.593,"v":0.75},{"s":"O","d":2,"t":2.628,"v":0.79},{"s":"O","d":2,"t":2.662,"v":0.75},{"s":"O","d":2,"t":2.696,"v":0.81},{"s":"O","d":2,"t":2.73,"v":0.79},{"s":"O","d":2,"t":2.764,"v":0.75},{"s":"O","d":2,"t":2.798,"v":0.81},{"s":"O","d":2,"t":2.832,"v":0.85},{"s":"O","d":2,"t":2.866,"v":0.79},{"s":"O","d":2,"t":2.9,"v":0.81},{"s":"O","d":2,"t":2.934,"v":0.71},{"s":"O","d":2,"t":2.969,"v":0.88},{"s":"O","d":2,"t":2.989,"v":0.9},
{"s":"O","d":3,"t":3.014,"v":0.5},{"s":"O","d":3,"t":3.034,"v":0.56},{"s":"O","d":3,"t":3.055,"v":0.6},{"s":"O","d":3,"t":3.082,"v":0.69},{"s":"O","d":3,"t":3.102,"v":0.6},{"s":"O","d":3,"t":3.123,"v":0.65},{"s":"O","d":3,"t":3.15,"v":0.75},{"s":"O","d":3,"t":3.171,"v":0.81},{"s":"O","d":3,"t":3.191,"v":0.85},{"s":"O","d":3,"t":3.218,"v":0.94},{"s":"O","d":3,"t":3.239,"v":0.81},{"s":"O","d":3,"t":3.259,"v":0.75},{"s":"O","d":3,"t":3.293,"v":0.65},{"s":"O","d":3,"t":3.327,"v":0.65},{"s":"O","d":3,"t":3.362,"v":0.69},{"s":"O","d":3,"t":3.396,"v":0.69},{"s":"O","d":3,"t":3.43,"v":0.75},{"s":"O","d":3,"t":3.464,"v":0.81},{"s":"O","d":3,"t":3.484,"v":0.9},{"s":"O","d":3,"t":3.512,"v":0.81},{"s":"O","d":3,"t":3.546,"v":0.71},{"s":"O","d":3,"t":3.58,"v":0.62},{"s":"O","d":3,"t":3.614,"v":0.5},{"s":"O","d":3,"t":3.648,"v":0.42},{"s":"O","d":3,"t":3.682,"v":0.4},{"s":"O","d":3,"t":3.716,"v":0.33},{"s":"O","d":3,"t":3.75,"v":0.27},{"s":"O","d":3,"t":3.784,"v":0.21},{"s":"O","d":3,"t":3.819,"v":0.17},{"s":"O","d":3,"t":3.853,"v":0.13},{"s":"O","d":3,"t":3.887,"v":0.12},{"s":"O","d":3,"t":3.921,"v":0.12},{"s":"O","d":3,"t":3.955,"v":0.08},{"s":"O","d":3,"t":3.989,"v":0.13},
{"s":"O","d":4,"t":4.007,"v":0.33},{"s":"O","d":4,"t":4.014,"v":0.52},{"s":"O","d":4,"t":4.041,"v":0.5},{"s":"O","d":4,"t":4.061,"v":0.56},{"s":"O","d":4,"t":4.095,"v":0.62},{"s":"O","d":4,"t":4.13,"v":0.65},{"s":"O","d":4,"t":4.164,"v":0.69},{"s":"O","d":4,"t":4.198,"v":0.75},{"s":"O","d":4,"t":4.232,"v":0.79},{"s":"O","d":4,"t":4.252,"v":0.71},{"s":"O","d":4,"t":4.28,"v":0.75},{"s":"O","d":4,"t":4.314,"v":0.65},{"s":"O","d":4,"t":4.348,"v":0.62},{"s":"O","d":4,"t":4.382,"v":0.62},{"s":"O","d":4,"t":4.416,"v":0.62},{"s":"O","d":4,"t":4.45,"v":0.56},{"s":"O","d":4,"t":4.484,"v":0.6},{"s":"O","d":4,"t":4.518,"v":0.5},{"s":"O","d":4,"t":4.553,"v":0.52},{"s":"O","d":4,"t":4.587,"v":0.42},{"s":"O","d":4,"t":4.621,"v":0.37},{"s":"O","d":4,"t":4.655,"v":0.4},{"s":"O","d":4,"t":4.689,"v":0.46},{"s":"O","d":4,"t":4.723,"v":0.4},{"s":"O","d":4,"t":4.757,"v":0.42},{"s":"O","d":4,"t":4.791,"v":0.46},{"s":"O","d":4,"t":4.825,"v":0.42},{"s":"O","d":4,"t":4.859,"v":0.5},{"s":"O","d":4,"t":4.894,"v":0.56},{"s":"O","d":4,"t":4.928,"v":0.52},{"s":"O","d":4,"t":4.948,"v":0.42},{"s":"O","d":4,"t":4.969,"v":0.37},{"s":"O","d":4,"t":4.996,"v":0.31}
],
"notes":[
{"t":4.28,"v":1.35,"label":"2+"},
{"t":4.9,"v":0.72,"label":"2+"},
{"t":4.86,"v":-0.37,"label":"2+"},
{"t":4.88,"v":-1.7,"label":"1-"},
{"t":5.512,"v":-0.79,"label":"Dow Jones"}
]
},
"encoding":{
"x":{"field":"t","type":"quantitative","scale":{"domain":[0,5],"nice":false,"zero":false},
 "axis":{"values":[0,1,2,3,4,5],"title":null,"ticks":false,"domain":true,"domainColor":"#cccccc","gridColor":"#d9d9d9","grid":true,"labelFlush":true,"labelPadding":2,"labelFont":"Liberation Sans","labelFontSize":10.3,"labelFontWeight":"bold","labelColor":"#333333",
 "labelExpr":"['Wed Feb 16,2011','Thu Feb 17','Fri Feb 18','Tue Feb 22','Wed Feb 23',''][datum.value]"}},
"y":{"field":"v","type":"quantitative","scale":{"domain":[-1.673,3.5],"nice":false,"zero":false},
 "axis":{"orient":"right","values":[-1.5,-1,-0.5,0,0.5,1,1.5,2,2.5,3,3.5],"title":null,"ticks":false,"domain":false,"gridColor":"#d9d9d9","grid":true,"labelPadding":3,"labelFont":"Liberation Sans","labelFontSize":11,"labelColor":"#444444","labelBaseline":"middle",
 "labelExpr":"datum.value > 3.4 ? '' : (datum.value == 0 ? '0%' : (datum.value < 0 ? '-' : '') + format(abs(datum.value), '.1f') + '%')"}}
},
"layer":[
{"data":{"name":"lines"},
 "mark":{"type":"line","strokeWidth":2,"clip":false},
 "encoding":{
  "color":{"field":"s","type":"nominal","legend":null,"sort":["B","G","K","R","O"],
   "scale":{"domain":["B","G","K","R","O"],"range":["#233a8f","#2a8a3e","#876632","#d42a1c","#f5a21d"]}},
  "detail":{"field":"d"},
  "order":{"field":"t"}}},
{"data":{"values":[{"t":0.034,"v":-1.5,"label":"© 2011 Yahoo! Inc."}]},
 "mark":{"type":"text","align":"left","baseline":"middle","fontSize":9.5,"color":"#bbbbbb","font":"Liberation Sans"},
 "encoding":{"text":{"field":"label"}}},
{"data":{"values":[{"t":4.989,"v":-0.87,"t2":5.164,"v2":-0.83}]},
 "mark":{"type":"rule","color":"#000000","strokeWidth":1.5,"clip":false},
 "encoding":{"x2":{"field":"t2"},"y2":{"field":"v2"}}},
{"data":{"values":[{"t":4.938,"v":-0.97}]},
 "mark":{"type":"point","shape":"M-0.79,0A0.79,1,0,1,0,0.79,0A0.79,1,0,1,0,-0.79,0Z","size":361,"filled":false,"stroke":"#000000","strokeWidth":1.5,"opacity":1,"clip":false},
 "encoding":{}},
{"data":{"values":[{"t":5.0,"v":-1.4}]},
 "mark":{"type":"point","shape":"square","size":45,"filled":true,"color":"#0b1d5e","opacity":1,"clip":false},
 "encoding":{}},
{"data":{"name":"notes"},
 "mark":{"type":"text","align":"center","baseline":"middle","fontSize":17,"fontWeight":"bold","color":"#000000","font":"Liberation Sans","clip":false},
 "encoding":{"text":{"field":"label"}}}
]
}
